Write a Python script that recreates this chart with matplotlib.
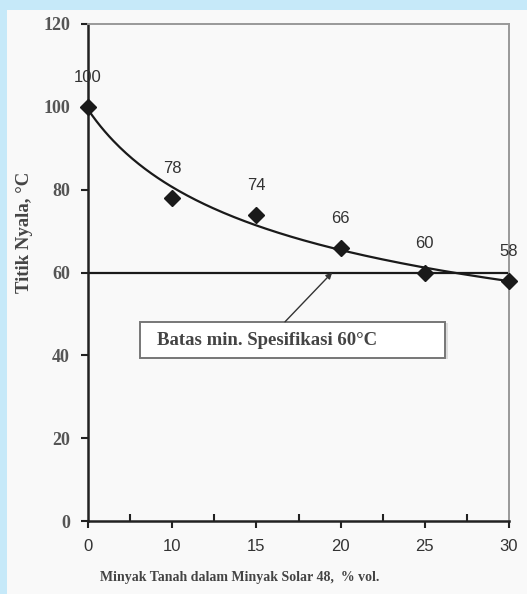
import numpy as np
import matplotlib
matplotlib.use("Agg")
import matplotlib.pyplot as plt
from matplotlib.patches import Rectangle

# data
kerosene_pct = ["0", "10", "15", "20", "25", "30"]
flash_point = [100, 78, 74, 66, 60, 58]
spec_min = 60
y_ticks = [0, 20, 40, 60, 80, 100, 120]

serif = ["Liberation Serif", "DejaVu Serif"]
sans = ["Liberation Sans", "DejaVu Sans"]

fig = plt.figure(figsize=(5.27, 5.94), dpi=100)
fig.patch.set_facecolor("#c6e9f9")
# white panel (blue strip only on top and left)
fig.add_artist(Rectangle((7 / 527, 0), 1, 1 - 10 / 594, transform=fig.transFigure,
                         facecolor="#f9f9f9", edgecolor="none", zorder=0))

ax = fig.add_axes([88 / 527, 1 - 521 / 594, (509 - 88) / 527, (521 - 24) / 594])
ax.set_facecolor("none")

idx = np.arange(len(kerosene_pct))

# power trendline (excel style, x = 1..n)
xt = idx + 1
b, a = np.polyfit(np.log(xt), np.log(flash_point), 1)
xs = np.linspace(1, len(xt), 200)
ax.plot(xs - 1, np.exp(a) * xs ** b, color="#1a1a1a", lw=1.6, zorder=3)

ax.axhline(spec_min, color="#1a1a1a", lw=1.6, zorder=2)
ax.plot(idx, flash_point, linestyle="none", marker="D", markersize=8,
        color="#1a1a1a", zorder=4, clip_on=False)

for i, v in zip(idx, flash_point):
    ax.annotate(str(v), (i, v), xytext=(0, 21), textcoords="offset points",
                ha="center", va="center", fontsize=12, family=sans, color="#333333")

# spec box
ax.add_patch(Rectangle((0.66, 39.0), 3.62, 8.7, facecolor="#dddddd", edgecolor="none",
                       zorder=4.5))
ax.add_patch(Rectangle((0.62, 39.4), 3.62, 8.7, facecolor="white", edgecolor="#777777",
                       lw=1.4, zorder=5))
ax.text(0.82, 43.6, "Batas min. Spesifikasi 60°C", ha="left", va="center",
        fontsize=13.5, family=serif, fontweight="bold", color="#444444", zorder=6)
ax.annotate("", xy=(2.9, spec_min), xytext=(2.34, 48.1),
            arrowprops=dict(arrowstyle="-|>", color="#333333", lw=1.0,
                            mutation_scale=9, shrinkA=0, shrinkB=0), zorder=6)

ax.set_xlim(0, len(kerosene_pct) - 1)
ax.set_ylim(0, 120)
ax.set_xticks(idx)
ax.set_xticklabels(kerosene_pct, fontsize=12, family=sans, color="#333333")
ax.set_xticks(idx[:-1] + 0.5, minor=True)
ax.set_yticks(y_ticks)
ax.set_yticklabels([str(t) for t in y_ticks], fontsize=13, family=serif,
                   fontweight="bold", color="#555555")
ax.tick_params(axis="x", which="major", direction="out", length=5, width=1.5,
               color="#222222", pad=8)
ax.tick_params(axis="x", which="minor", direction="in", length=5, width=1.5,
               color="#222222")
ax.tick_params(axis="y", direction="out", length=5, width=1.5, color="#222222", pad=8)

for s in ["left", "bottom"]:
    ax.spines[s].set_color("#222222")
    ax.spines[s].set_linewidth(1.8)
for s in ["top", "right"]:
    ax.spines[s].set_color("#999999")
    ax.spines[s].set_linewidth(1.4)

ax.set_ylabel("Titik Nyala, °C", fontsize=13.5, family=serif, fontweight="bold",
              color="#444444")
ax.yaxis.set_label_coords(-0.13, 0.58)
ax.set_xlabel("Minyak Tanah dalam Minyak Solar 48,  % vol.", fontsize=10,
              family=serif, fontweight="bold", color="#444444")
ax.xaxis.set_label_coords(0.361, -0.10)

fig.savefig("out.png", dpi=100, facecolor=fig.get_facecolor())
